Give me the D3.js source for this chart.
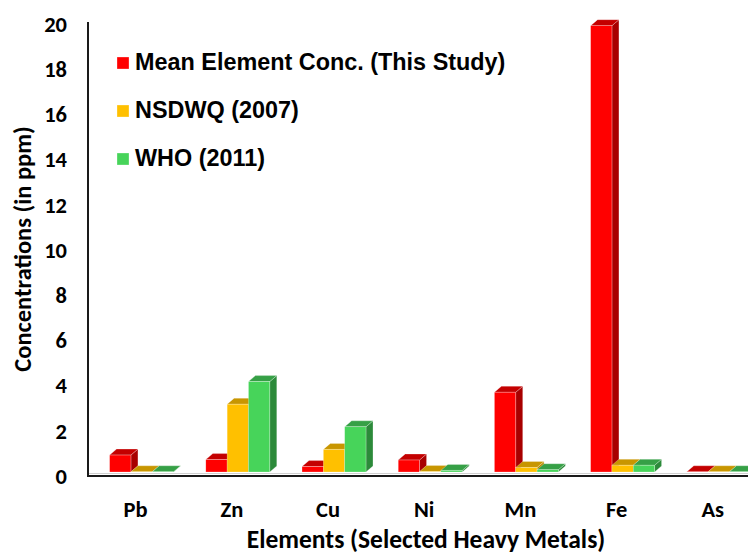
<!DOCTYPE html>
<html>
<head>
<meta charset="utf-8">
<script src="https://cdn.jsdelivr.net/npm/d3@7"></script>
<style>
  body { margin: 0; background: #fff; }
  svg { display: block; }
</style>
</head>
<body>
<svg id="chart"></svg>
<script>
// chart data
const elements = ['Pb', 'Zn', 'Cu', 'Ni', 'Mn', 'Fe', 'As'];
const seriesNames = ['Mean Element Conc. (This Study)', 'NSDWQ (2007)', 'WHO (2011)'];
const meanConc = [0.75, 0.55, 0.24, 0.53, 3.53, 19.75, 0.01];
const nsdwq = [0.01, 3.0, 1.0, 0.02, 0.2, 0.3, 0.01];
const who = [0.01, 4.0, 2.0, 0.07, 0.1, 0.3, 0.01];
const yTicks = [0, 2, 4, 6, 8, 10, 12, 14, 16, 18, 20];

const COLORS = [
  { front: '#ff0000', side: '#a80000', top: '#c40000' },
  { front: '#ffc000', side: '#b88a00', top: '#c89600' },
  { front: '#47d45a', side: '#2c8a3a', top: '#36a046' }
];

const W = 748, H = 555;
const depthX = 7, depthY = 6, floorGap = 4;
const calibri = 'Carlito, Calibri, Lato, "Open Sans", sans-serif';

const svg = d3.select('#chart').attr('width', W).attr('height', H);

const x = d3.scaleBand()
  .domain(elements)
  .range([93.5, 93.5 + 7 * 96.2])
  .paddingInner(0.335)
  .paddingOuter(0.1675);

const xs = d3.scaleBand()
  .domain(d3.range(seriesNames.length))
  .range([0, x.bandwidth()]);

const y = d3.scaleLinear().domain([0, 20]).range([476, 24]);

const values = [meanConc, nsdwq, who];

// bars, drawn left to right so each front face covers the previous side
const bars = [];
elements.forEach((el, i) => {
  values.forEach((vals, s) => {
    bars.push({ el, s, v: vals[i] });
  });
});

const barG = svg.append('g');
bars.forEach(b => {
  const x0 = x(b.el) + xs(b.s);
  const x1 = x0 + xs.bandwidth();
  const yb = y(0) - floorGap;
  const yt = y(b.v) - floorGap;
  const c = COLORS[b.s];
  const g = barG.append('g');
  // side
  g.append('path')
    .attr('d', `M${x1},${yb} L${x1 + depthX},${yb - depthY} L${x1 + depthX},${yt - depthY} L${x1},${yt} Z`)
    .attr('fill', c.side)
    .attr('stroke', 'rgba(255,255,255,0.5)').attr('stroke-width', 0.5);
  // top
  g.append('path')
    .attr('d', `M${x0},${yt} L${x0 + depthX},${yt - depthY} L${x1 + depthX},${yt - depthY} L${x1},${yt} Z`)
    .attr('fill', c.top)
    .attr('stroke', 'rgba(255,255,255,0.5)').attr('stroke-width', 0.5);
  // front
  g.append('rect')
    .attr('x', x0).attr('y', yt)
    .attr('width', x1 - x0).attr('height', Math.max(0, yb - yt))
    .attr('fill', c.front)
    .attr('stroke', 'rgba(255,255,255,0.5)').attr('stroke-width', 0.5);
});

// axes lines
svg.append('line')
  .attr('x1', 88).attr('x2', W).attr('y1', y(0) - 2.5).attr('y2', y(0) - 2.5)
  .attr('stroke', '#d0d0d0').attr('stroke-width', 1);
svg.append('line')
  .attr('x1', 88).attr('x2', 88).attr('y1', y(20) - 2).attr('y2', y(0) + 1)
  .attr('stroke', '#1a1a1a').attr('stroke-width', 2);
svg.append('line')
  .attr('x1', 87).attr('x2', W).attr('y1', y(0)).attr('y2', y(0))
  .attr('stroke', '#1a1a1a').attr('stroke-width', 2);

// y tick labels
svg.append('g').selectAll('text')
  .data(yTicks)
  .join('text')
  .attr('x', 67)
  .attr('y', d => y(d))
  .attr('dy', '0.35em')
  .attr('text-anchor', 'end')
  .style('font-family', calibri)
  .style('font-weight', 'bold')
  .style('font-size', '22.5px')
  .text(d => d);

// x tick labels
svg.append('g').selectAll('text')
  .data(elements)
  .join('text')
  .attr('x', d => x(d) + x.bandwidth() / 2 - 6)
  .attr('y', 517)
  .attr('text-anchor', 'middle')
  .style('font-family', calibri)
  .style('font-weight', 'bold')
  .style('font-size', '22.5px')
  .text(d => d);

// axis titles
svg.append('text')
  .attr('x', 426)
  .attr('y', 548)
  .attr('text-anchor', 'middle')
  .style('font-family', calibri)
  .style('font-weight', 'bold')
  .style('font-size', '25.5px')
  .text('Elements (Selected Heavy Metals)');

svg.append('text')
  .attr('transform', `translate(31, 249) rotate(-90)`)
  .attr('text-anchor', 'middle')
  .style('font-family', calibri)
  .style('font-weight', 'bold')
  .style('font-size', '24.5px')
  .text('Concentrations (in ppm)');

// legend
const legend = svg.append('g').attr('transform', 'translate(117, 57)');
const items = legend.selectAll('g')
  .data(seriesNames)
  .join('g')
  .attr('transform', (d, i) => `translate(0, ${i * 48})`);
items.append('rect')
  .attr('width', 12).attr('height', 12)
  .attr('fill', (d, i) => COLORS[i].front)
  .attr('stroke', 'rgba(255,255,255,0.6)').attr('stroke-width', 0.5);
items.append('text')
  .attr('x', 18)
  .attr('y', 13)
  .style('font-family', '"Liberation Sans", Arial, sans-serif')
  .style('font-weight', 'bold')
  .style('font-size', '23.4px')
  .text(d => d);
</script>
</body>
</html>
